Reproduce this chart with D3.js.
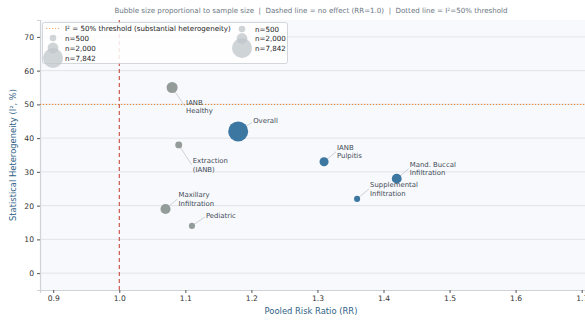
<!DOCTYPE html>
<html>
<head>
<meta charset="utf-8">
<script src="https://cdn.jsdelivr.net/npm/d3@7"></script>
<style>
  html, body { margin: 0; padding: 0; background: #fff; }
  svg { display: block; font-family: "DejaVu Sans", sans-serif; }
</style>
</head>
<body>
<svg id="chart" width="585" height="322"></svg>
<script>
// Subgroup meta-analysis results
const subgroups = ["IANB Healthy", "Overall", "Extraction (IANB)", "Maxillary Infiltration",
                   "Pediatric", "IANB Pulpitis", "Mand. Buccal Infiltration", "Supplemental Infiltration"];
const labelLines = [["IANB", "Healthy"], ["Overall"], ["Extraction", "(IANB)"], ["Maxillary", "Infiltration"],
                    ["Pediatric"], ["IANB", "Pulpitis"], ["Mand. Buccal", "Infiltration"], ["Supplemental", "Infiltration"]];
const pooledRR = [1.08, 1.18, 1.09, 1.07, 1.11, 1.31, 1.42, 1.36];
const i2 = [55, 42, 38, 19, 14, 33, 28, 22];
const sampleSize = [2100, 7842, 600, 1700, 380, 1300, 1600, 350];
const significant = [false, true, false, false, false, true, true, true];

const xTicks = [0.9, 1.0, 1.1, 1.2, 1.3, 1.4, 1.5, 1.6, 1.7];
const yTicks = [0, 10, 20, 30, 40, 50, 60, 70];
const legendSizes = [500, 2000, 7842];

// label offsets (px) from each bubble centre to the first text baseline
const labelOffset = [[14, 17], [15, -8], [14, 18], [13, -12], [14, -8], [13, -12], [13, -12], [13, -12]];

const svg = d3.select("#chart");
const m = { left: 40, right: 0, top: 20, bottom: 32 };
const W = 585, H = 322;

const x = d3.scaleLinear().domain([0.88, 1.705]).range([m.left, W - m.right]);
const y = d3.scaleLinear().domain([-5, 75]).range([H - m.bottom, m.top]);
// bubble area grows linearly with sample size
const area = d3.scaleLinear().domain([0, 7842]).range([4.8, 100]);
const r = n => Math.sqrt(area(n));

const blue = "#3c77a2", gray = "#939c99";

// plot background
svg.append("rect").attr("x", m.left).attr("y", m.top)
  .attr("width", W - m.right - m.left).attr("height", H - m.bottom - m.top)
  .attr("fill", "#f8f9fc");

// horizontal grid
svg.append("g").selectAll("line").data(yTicks).join("line")
  .attr("x1", m.left).attr("x2", W - m.right)
  .attr("y1", d => y(d)).attr("y2", d => y(d))
  .attr("stroke", "#e1e4e8").attr("stroke-width", 1);

// axes
const xAxis = svg.append("g").attr("transform", `translate(0,${H - m.bottom})`)
  .call(d3.axisBottom(x).tickValues(xTicks).tickFormat(d3.format(".1f")).tickSize(3).tickPadding(3));
const yAxis = svg.append("g").attr("transform", `translate(${m.left},0)`)
  .call(d3.axisLeft(y).tickValues(yTicks).tickFormat(d3.format("d")).tickSize(3).tickPadding(3));
[xAxis, yAxis].forEach(a => {
  a.select(".domain").attr("stroke", "#cfd3d8").attr("stroke-width", 1.2);
  a.selectAll(".tick line").attr("stroke", "#555");
  a.selectAll(".tick text").attr("fill", "#333").style("font-size", "7.6px").style("font-family", "DejaVu Sans");
});

// reference lines
svg.append("line").attr("x1", x(1.0)).attr("x2", x(1.0)).attr("y1", m.top).attr("y2", H - m.bottom)
  .attr("stroke", "#c0392b").attr("stroke-width", 1).attr("stroke-dasharray", "4,3");
svg.append("line").attr("x1", m.left).attr("x2", W - m.right).attr("y1", y(50)).attr("y2", y(50))
  .attr("stroke", "#e67e22").attr("stroke-width", 1).attr("stroke-dasharray", "1.2,1.8");

// leader lines and labels
const idx = d3.range(subgroups.length);
svg.append("g").selectAll("line").data(idx).join("line")
  .attr("x1", i => x(pooledRR[i])).attr("y1", i => y(i2[i]))
  .attr("x2", i => x(pooledRR[i]) + labelOffset[i][0] - 1)
  .attr("y2", i => y(i2[i]) + labelOffset[i][1] + (labelLines[i].length > 1 ? 2 : -1))
  .attr("stroke", "#c4c8cc").attr("stroke-width", 0.8);

// bubbles
svg.append("g").selectAll("circle").data(idx).join("circle")
  .attr("cx", i => x(pooledRR[i])).attr("cy", i => y(i2[i]))
  .attr("r", i => r(sampleSize[i]))
  .attr("fill", i => significant[i] ? blue : gray);

const lab = svg.append("g").selectAll("text").data(idx).join("text")
  .attr("x", i => x(pooledRR[i]) + labelOffset[i][0])
  .attr("y", i => y(i2[i]) + labelOffset[i][1])
  .attr("fill", "#3e4a56").style("font-size", "6.9px");
lab.selectAll("tspan").data(i => labelLines[i].map(t => ({ t, x: x(pooledRR[i]) + labelOffset[i][0] })))
  .join("tspan").attr("x", d => d.x).attr("dy", (d, k) => k === 0 ? 0 : "1.25em").text(d => d.t);

// legend
const lg = svg.append("g");
lg.append("rect").attr("x", 42.5).attr("y", 22.5).attr("width", 245).attr("height", 41)
  .attr("rx", 2).attr("fill", "#fff").attr("fill-opacity", 0.85).attr("stroke", "#c9cdd2").attr("stroke-width", 0.8);
lg.append("line").attr("x1", 46).attr("x2", 60).attr("y1", 28.5).attr("y2", 28.5)
  .attr("stroke", "#f0a868").attr("stroke-width", 1).attr("stroke-dasharray", "1.2,1.8");
lg.append("text").attr("x", 65).attr("y", 31.2).attr("fill", "#222").style("font-size", "7.1px")
  .text("I² = 50% threshold (substantial heterogeneity)");
const fmt = d3.format(",");
const leftRows = [38, 48, 58], rightRows = [29, 38.5, 48];
legendSizes.forEach((n, k) => {
  lg.append("circle").attr("cx", 53).attr("cy", leftRows[k]).attr("r", r(n))
    .attr("fill", "#bfc5c9").attr("fill-opacity", 0.75);
  lg.append("text").attr("x", 65).attr("y", leftRows[k] + 2.6).attr("fill", "#222").style("font-size", "7.1px")
    .text("n=" + fmt(n));
  lg.append("circle").attr("cx", 242).attr("cy", rightRows[k]).attr("r", r(n))
    .attr("fill", "#bfc5c9").attr("fill-opacity", 0.75);
  lg.append("text").attr("x", 255).attr("y", rightRows[k] + 2.6).attr("fill", "#222").style("font-size", "7.1px")
    .text("n=" + fmt(n));
});

// titles
svg.append("text").attr("x", 311).attr("y", 13).attr("text-anchor", "middle")
  .attr("fill", "#6b7684").style("font-size", "7.1px").style("white-space", "pre")
  .text("Bubble size proportional to sample size  |  Dashed line = no effect (RR=1.0)  |  Dotted line = I²=50% threshold");
svg.append("text").attr("x", 311).attr("y", 314).attr("text-anchor", "middle")
  .attr("fill", "#2f5f86").style("font-size", "8.4px").text("Pooled Risk Ratio (RR)");
svg.append("text").attr("transform", `translate(16,${(m.top + H - m.bottom) / 2}) rotate(-90)`)
  .attr("text-anchor", "middle").attr("fill", "#2f5f86").style("font-size", "8.4px")
  .text("Statistical Heterogeneity (I², %)");
</script>
</body>
</html>
